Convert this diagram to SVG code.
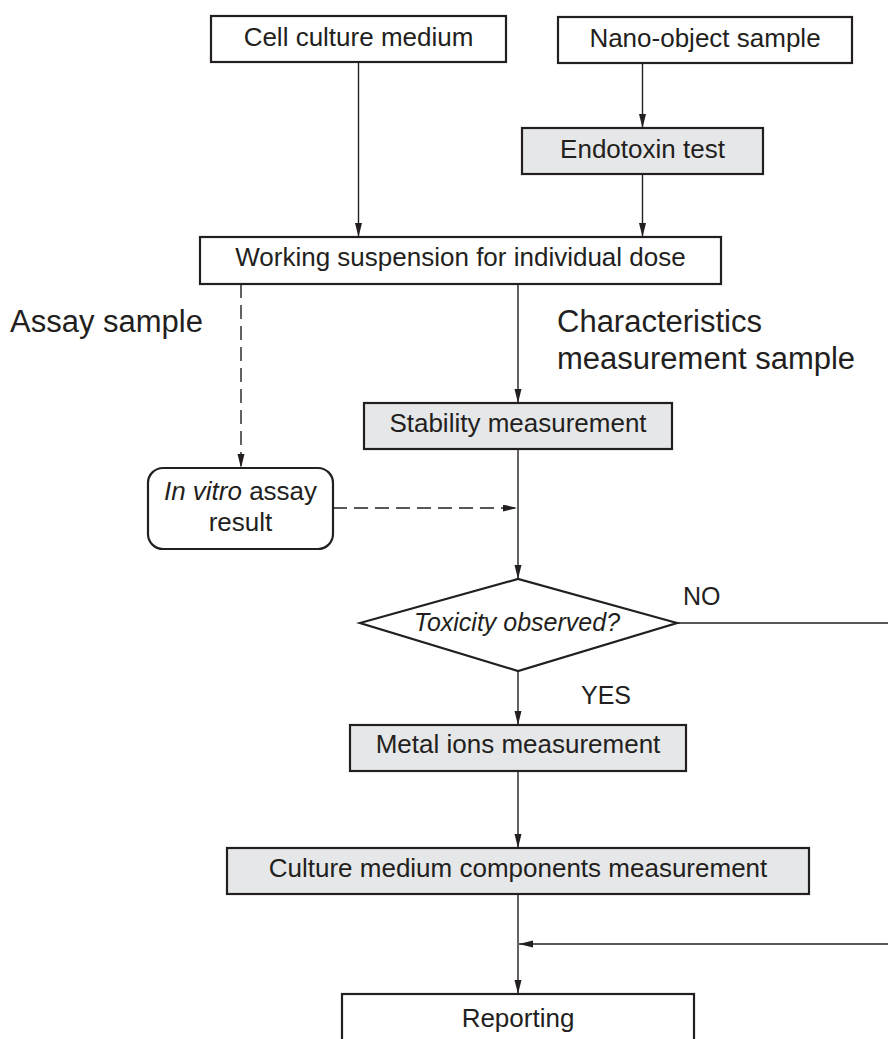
<svg xmlns="http://www.w3.org/2000/svg" width="888" height="1039" viewBox="0 0 888 1039">
<defs>
<marker id="arr" markerUnits="userSpaceOnUse" markerWidth="15" markerHeight="8" refX="14" refY="3.5" orient="auto">
<path d="M0,0 L14,3.5 L0,7 z" fill="#231f20"/>
</marker>
<style>
.box{fill:#fff;stroke:#231f20;stroke-width:2.2}
.grey{fill:#e6e7e8}
.t{font-family:"Liberation Sans",Arial,sans-serif;font-size:26px;fill:#231f20;text-anchor:middle}
.big{font-family:"Liberation Sans",Arial,sans-serif;font-size:31px;fill:#231f20}
.lbl{font-family:"Liberation Sans",Arial,sans-serif;font-size:25px;fill:#231f20}
.c{fill:none;stroke:#231f20;stroke-width:1.4}
.d{stroke-dasharray:14 7}
.a{marker-end:url(#arr)}
</style>
</defs>
<rect width="888" height="1039" fill="#fff"/>
<g id="connectors">
<line class="c a" x1="358.5" y1="62" x2="358.5" y2="237"/>
<line class="c a" x1="642.5" y1="63" x2="642.5" y2="128"/>
<line class="c a" x1="642.5" y1="174" x2="642.5" y2="237"/>
<line class="c a" x1="518" y1="284" x2="518" y2="403"/>
<line class="c d a" x1="241" y1="284" x2="241" y2="468"/>
<line class="c d a" x1="333" y1="508" x2="517" y2="508"/>
<line class="c a" x1="518" y1="449" x2="518" y2="579"/>
<line class="c" x1="677" y1="623" x2="888" y2="623"/>
<line class="c a" x1="518" y1="671" x2="518" y2="725"/>
<line class="c a" x1="518" y1="771" x2="518" y2="848"/>
<line class="c a" x1="518" y1="894" x2="518" y2="994"/>
<line class="c a" x1="888" y1="944" x2="519" y2="944"/>
</g>
<g id="labels">
<text class="big" x="10" y="332">Assay sample</text>
<text class="big" x="557" y="332">Characteristics</text>
<text class="big" x="557" y="369">measurement sample</text>
<text class="lbl" x="683" y="605">NO</text>
<text class="lbl" x="581" y="704">YES</text>
</g>
<g id="cell-culture-medium">
<rect class="box" x="211" y="16" width="295" height="46"/>
<text class="t" x="358.5" y="46">Cell culture medium</text>
</g>
<g id="nano-object-sample">
<rect class="box" x="558" y="17" width="294" height="46"/>
<text class="t" x="705" y="47">Nano-object sample</text>
</g>
<g id="endotoxin-test">
<rect class="box grey" x="522" y="128" width="241" height="46"/>
<text class="t" x="642.5" y="158">Endotoxin test</text>
</g>
<g id="working-suspension">
<rect class="box" x="200" y="237" width="521" height="47"/>
<text class="t" x="460.5" y="266">Working suspension for individual dose</text>
</g>
<g id="stability-measurement">
<rect class="box grey" x="364" y="403" width="308" height="46"/>
<text class="t" x="518" y="432">Stability measurement</text>
</g>
<g id="in-vitro-assay-result">
<rect class="box" x="148" y="468" width="185" height="81" rx="15" ry="15"/>
<text class="t" x="240.5" y="500"><tspan font-style="italic">In vitro</tspan> assay</text>
<text class="t" x="240.5" y="531">result</text>
</g>
<g id="toxicity-observed">
<polygon class="box" points="360,623 518,579 677,623 518,671"/>
<text class="t" x="517" y="631" font-style="italic" style="font-size:25px">Toxicity observed?</text>
</g>
<g id="metal-ions-measurement">
<rect class="box grey" x="350" y="725" width="336" height="46"/>
<text class="t" x="518" y="753">Metal ions measurement</text>
</g>
<g id="culture-medium-components-measurement">
<rect class="box grey" x="227" y="848" width="582" height="46"/>
<text class="t" x="518" y="877">Culture medium components measurement</text>
</g>
<g id="reporting">
<rect class="box" x="342" y="994" width="352" height="50"/>
<text class="t" x="518" y="1027">Reporting</text>
</g>
</svg>
